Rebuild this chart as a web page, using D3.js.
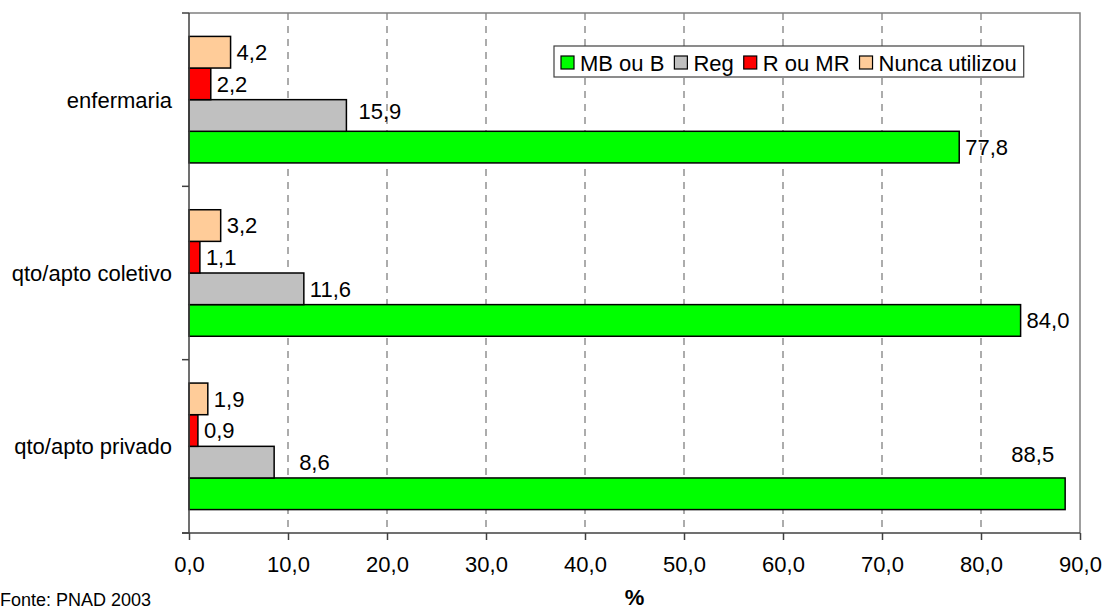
<!DOCTYPE html>
<html>
<head>
<meta charset="utf-8">
<script src="https://cdn.jsdelivr.net/npm/d3@7"></script>
<style>
  html, body { margin: 0; padding: 0; background: #fff; }
  svg { display: block; font-family: "Liberation Sans", Arial, sans-serif; }
</style>
</head>
<body>
<svg id="chart" width="1104" height="612"></svg>
<script>
// Avaliação das acomodações (%), por tipo de acomodação
const categories = ["enfermaria", "qto/apto coletivo", "qto/apto privado"];
const seriesNames = ["MB ou B", "Reg", "R ou MR", "Nunca utilizou"];
const mbOuB = [77.8, 84.0, 88.5];
const reg = [15.9, 11.6, 8.6];
const rOuMr = [2.2, 1.1, 0.9];
const nuncaUtilizou = [4.2, 3.2, 1.9];
const xTicks = [0, 10, 20, 30, 40, 50, 60, 70, 80, 90];
const colors = ["#00ff00", "#c0c0c0", "#ff0000", "#ffcc99"];

const seriesValues = [mbOuB, reg, rOuMr, nuncaUtilizou];

// label nudges (px) for a couple of labels that sit apart from their bars
const labelNudge = {
  "qto/apto privado|Reg": { dx: 19, dy: 0 },
  "enfermaria|Reg": { dx: 6, dy: -4 }
};

const svg = d3.select("#chart");
const plotLeft = 189, plotRight = 1080, plotTop = 13, plotBottom = 533;
const fontSize = 22;

const x = d3.scaleLinear().domain([0, 90]).range([plotLeft, plotRight]);
const y = d3.scaleBand().domain(categories).range([plotTop, plotBottom]).padding(0);
// within each category, the last series sits at the top
const inner = d3.scaleBand()
  .domain(seriesNames.slice().reverse())
  .range([0, y.bandwidth()])
  .paddingInner(0)
  .paddingOuter(0.74);

// dashed vertical gridlines
svg.append("g")
  .selectAll("line")
  .data(xTicks.slice(1, -1))
  .join("line")
  .attr("x1", d => x(d)).attr("x2", d => x(d))
  .attr("y1", plotTop).attr("y2", plotBottom)
  .attr("stroke", "#808080")
  .attr("stroke-width", 1.3)
  .attr("stroke-dasharray", "7,6");

// top and right plot border
svg.append("path")
  .attr("d", `M${plotLeft},${plotTop}H${plotRight}V${plotBottom}`)
  .attr("fill", "none")
  .attr("stroke", "#808080")
  .attr("stroke-width", 1.5);

// bars
const rows = [];
categories.forEach((c, i) => {
  seriesNames.forEach((s, j) => {
    rows.push({ cat: c, series: s, value: seriesValues[j][i], color: colors[j] });
  });
});

svg.append("g")
  .selectAll("rect")
  .data(rows)
  .join("rect")
  .attr("x", x(0))
  .attr("y", d => y(d.cat) + inner(d.series))
  .attr("width", d => x(d.value) - x(0))
  .attr("height", inner.bandwidth())
  .attr("fill", d => d.color)
  .attr("stroke", "#000")
  .attr("stroke-width", 1.5);

// value labels
const fmt = v => d3.format(".1f")(v).replace(".", ",");
const labels = svg.append("g")
  .attr("font-size", fontSize)
  .attr("fill", "#000");

rows.forEach(d => {
  const t = labels.append("text").text(fmt(d.value));
  const w = t.node().getComputedTextLength();
  const cy = y(d.cat) + inner(d.series) + inner.bandwidth() / 2;
  const n = labelNudge[d.cat + "|" + d.series] || { dx: 0, dy: 0 };
  let lx = x(d.value) + 6 + n.dx;
  let ly = cy + n.dy;
  if (lx + w > plotRight - 4) {
    // no room on the right: set above the bar end
    lx = x(d.value) - 11 - w;
    ly = y(d.cat) + inner(d.series) - 24;
  }
  t.attr("x", lx).attr("y", ly).attr("dy", "0.36em");
});

// y axis (category boundaries as ticks)
svg.append("line")
  .attr("x1", plotLeft).attr("x2", plotLeft)
  .attr("y1", plotTop).attr("y2", plotBottom)
  .attr("stroke", "#404040").attr("stroke-width", 1.5);
svg.append("g")
  .selectAll("line")
  .data(d3.range(categories.length + 1))
  .join("line")
  .attr("x1", plotLeft - 7).attr("x2", plotLeft)
  .attr("y1", i => plotTop + i * y.step()).attr("y2", i => plotTop + i * y.step())
  .attr("stroke", "#404040").attr("stroke-width", 1.5);

svg.append("g")
  .attr("font-size", fontSize)
  .attr("fill", "#000")
  .attr("text-anchor", "end")
  .selectAll("text")
  .data(categories)
  .join("text")
  .attr("x", plotLeft - 17)
  .attr("y", d => y(d) + y.bandwidth() / 2)
  .attr("dy", "0.36em")
  .text(d => d);

// x axis
const xAxis = svg.append("g")
  .attr("transform", `translate(0,${plotBottom})`)
  .call(d3.axisBottom(x).tickValues(xTicks).tickSize(7).tickPadding(16).tickFormat(fmt));
xAxis.select(".domain").remove();
xAxis.selectAll(".tick line").attr("stroke", "#404040").attr("stroke-width", 1.5);
xAxis.selectAll(".tick text")
  .attr("font-size", fontSize)
  .attr("font-family", "Liberation Sans, Arial, sans-serif")
  .attr("fill", "#000");
svg.append("line")
  .attr("x1", plotLeft - 7).attr("x2", plotRight)
  .attr("y1", plotBottom).attr("y2", plotBottom)
  .attr("stroke", "#404040").attr("stroke-width", 1.5);

// axis title
svg.append("text")
  .attr("x", (plotLeft + plotRight) / 2)
  .attr("y", 605)
  .attr("text-anchor", "middle")
  .attr("font-size", fontSize)
  .attr("font-weight", "bold")
  .text("%");

// source note
svg.append("text")
  .attr("x", 0)
  .attr("y", 606)
  .attr("font-size", 18)
  .text("Fonte: PNAD 2003");

// legend
const legend = svg.append("g");
const legendBox = legend.append("rect")
  .attr("x", 554).attr("y", 46)
  .attr("height", 31)
  .attr("fill", "#fff")
  .attr("stroke", "#404040")
  .attr("stroke-width", 1.2);
let legendX = 561;
seriesNames.forEach((s, j) => {
  legend.append("rect")
    .attr("x", legendX).attr("y", 56)
    .attr("width", 13).attr("height", 13)
    .attr("fill", colors[j])
    .attr("stroke", "#000")
    .attr("stroke-width", 1.2);
  const t = legend.append("text")
    .attr("x", legendX + 19)
    .attr("y", 63.5)
    .attr("dy", "0.36em")
    .attr("font-size", fontSize)
    .text(s);
  legendX += 19 + t.node().getComputedTextLength() + 10;
});
legendBox.attr("width", legendX - 10 + 7 - 554);
</script>
</body>
</html>
